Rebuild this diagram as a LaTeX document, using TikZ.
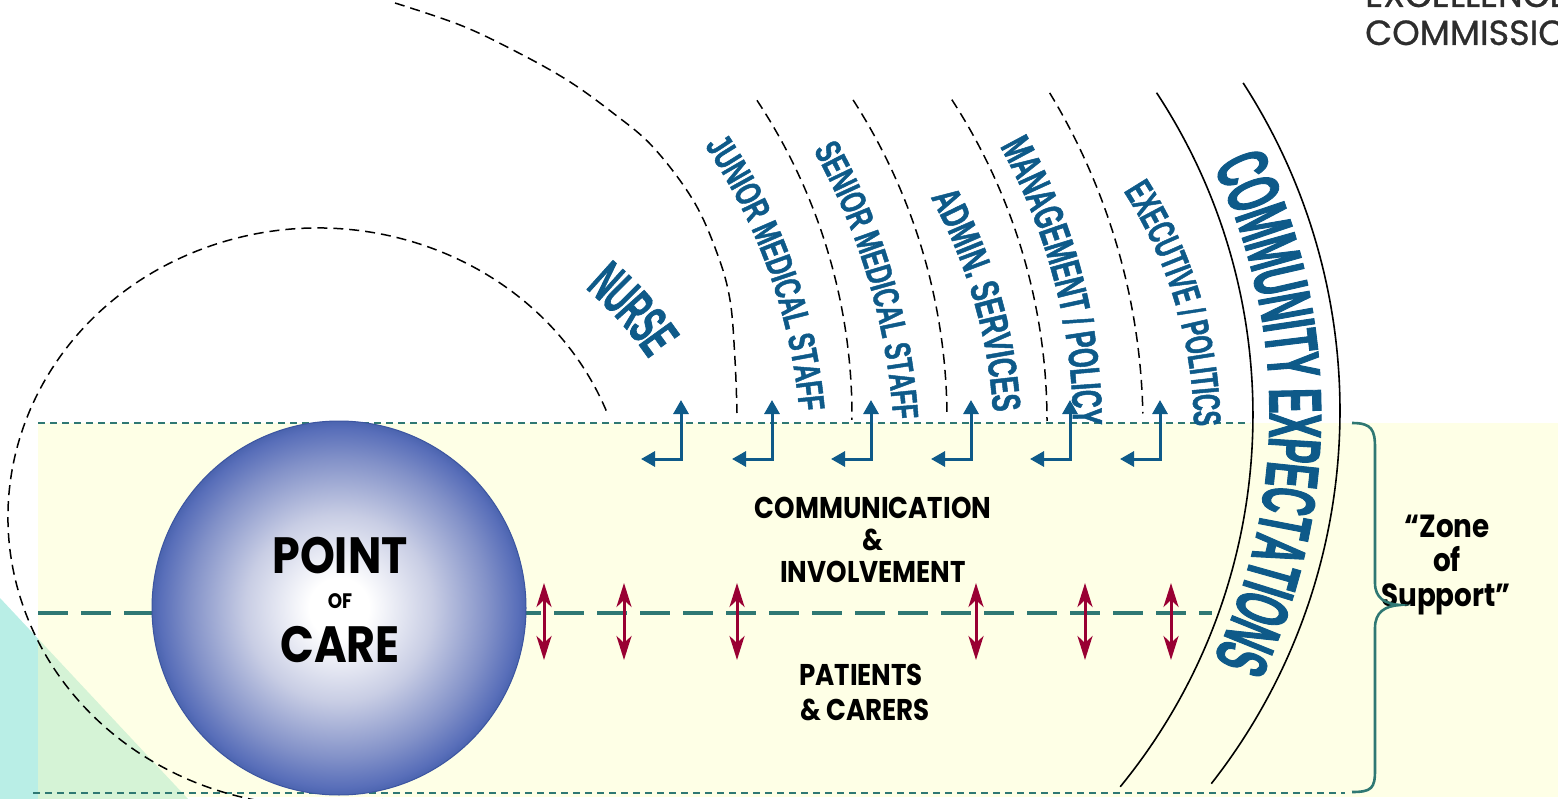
\documentclass[tikz,border=0pt]{standalone}
\usepackage{fontspec}
\usetikzlibrary{decorations.text,arrows.meta,calc}
\newfontfamily\gothic{Poppins}[FakeStretch=0.87]
\newfontfamily\logofont{Poppins}[FakeBold=0.8]
\newfontfamily\lblN{Liberation Sans}[FakeStretch=0.5,FakeBold=1.2]
\newfontfamily\lblM{Liberation Sans}[FakeStretch=0.6,FakeBold=1.2]
\newfontfamily\lblW{Liberation Sans}[FakeStretch=0.65,FakeBold=1.2]
\definecolor{lblblue}{RGB}{14,90,137}
\definecolor{tealc}{RGB}{47,120,115}
\definecolor{arrowred}{RGB}{153,0,51}
\definecolor{bandyellow}{RGB}{254,255,230}
\definecolor{cyanout}{RGB}{185,238,230}
\definecolor{cyanin}{RGB}{213,243,214}
\definecolor{logogray}{RGB}{45,45,45}
\definecolor{ballA}{RGB}{200,205,228}
\definecolor{ballB}{RGB}{130,145,200}
\definecolor{ballC}{RGB}{88,110,185}
\definecolor{ballD}{RGB}{75,100,175}
\definecolor{ballline}{RGB}{60,85,160}
\pgfdeclareradialshading{ballshade}{\pgfpoint{0bp}{0bp}}{%
  color(0bp)=(white); color(4bp)=(white); color(12.5bp)=(ballA);
  color(20bp)=(ballB); color(24bp)=(ballC); color(25bp)=(ballD); color(50bp)=(ballD)}
\newcommand\curvlab[8]{%
  \path[decorate, decoration={text along path, text align=center, raise=#7pt,
      text color=lblblue, text={|#6|#8}}]
    ($(#1,#2)+({#4-#5}:#3)$) arc[start angle={#4-#5}, end angle={#4+#5}, radius=#3];}
\begin{document}
\begin{tikzpicture}[x=1pt,y=-1pt,
  dasharc/.style={black, line width=1.5pt, dash pattern=on 10pt off 6pt},
  solidarc/.style={black, line width=1.6pt},
  bandline/.style={tealc, line width=1.6pt, dash pattern=on 7pt off 5pt},
  midline/.style={tealc, line width=4pt, dash pattern=on 30pt off 13pt},
  bluearrow/.style={lblblue, line width=3pt, arrows={Triangle[width=15pt,length=14pt]-Triangle[width=15pt,length=14pt]}},
  redarrow/.style={arrowred, line width=3pt, arrows={Stealth[width=15pt,length=24pt,inset=7pt]-Stealth[width=15pt,length=24pt,inset=7pt]}},
  bracestyle/.style={tealc, line width=2.6pt},
  gtext/.style={inner sep=0pt, anchor=base, text=black}]
\useasboundingbox (0,0) rectangle (1558,799);
\clip (0,0) rectangle (1558,799);
% band
\fill[bandyellow] (38,423) rectangle (1558,797);
\fill[cyanout] (0,598) -- (38,638.6) -- (38,799) -- (0,799) -- cycle;
\fill[cyanin] (38,638.6) -- (188,799) -- (38,799) -- cycle;
\coordinate (bandTL) at (38,423); \coordinate (bandTR) at (1250,423);
\coordinate (bandBL) at (33,793); \coordinate (bandBR) at (1345,793);
\draw[bandline] (bandTL) -- (bandTR);
\draw[bandline] (bandBL) -- (bandBR);
\coordinate (midL) at (38,613); \coordinate (midR) at (1212,613);
\draw[midline] (midL) -- (midR);
% left dashed oval
\coordinate (ovalS) at ($(318,517)+(-21.6:310 and 289)$);
\draw[dasharc] (ovalS) arc[start angle=-21.6, end angle=-282, x radius=310, y radius=289];
% arc A
\draw[dasharc] plot[smooth, tension=0.6] coordinates {(395,3) (460,25) (513,50) (567,80) (613,113) (653,147) (693,200) (717,253) (730,300) (735,360) (737,413)};
% arcs B-E
\coordinate (Bs) at ($(280,416)+(-33.5:572)$);
\draw[dasharc] (Bs) arc[start angle=-33.5, end angle=0.4, radius=572];
\coordinate (Cs) at ($(358,419)+(-32.8:589)$);
\draw[dasharc] (Cs) arc[start angle=-32.8, end angle=-0.2, radius=589];
\coordinate (Ds) at ($(457,421)+(-33:590)$);
\draw[dasharc] (Ds) arc[start angle=-33, end angle=0, radius=590];
\coordinate (Es) at ($(498,427)+(-31.2:645)$);
\draw[dasharc] (Es) arc[start angle=-31.2, end angle=-1.2, radius=645];
% solid arcs
\coordinate (Fs) at ($(666,415)+(-33.3:587)$);
\draw[solidarc] (Fs) arc[start angle=-33.3, end angle=39.3, radius=587];
\coordinate (Gs) at ($(736,411)+(-32.9:604)$);
\draw[solidarc] (Gs) arc[start angle=-32.9, end angle=38.1, radius=604];
% ball
\node[circle, minimum size=374pt, inner sep=0pt, shading=ballshade, draw=ballline, line width=1pt] (ball) at (339,608) {};
\node[gtext, font=\gothic\bfseries\fontsize{51}{51}\selectfont] (point) at (340,573) {POINT};
\node[gtext, font=\gothic\bfseries\fontsize{21}{21}\selectfont] (of) at (340,608) {OF};
\node[gtext, font=\gothic\bfseries\fontsize{51}{51}\selectfont] (care) at (340,662) {CARE};
% curved labels
\curvlab{359}{556}{371}{-42}{30}{\lblN\bfseries\fontsize{57}{57}\selectfont}{-20.5}{NURSE}
\curvlab{239.5}{461}{575}{-19.6}{35}{\lblW\bfseries\fontsize{37}{37}\selectfont}{-13}{JUNIOR MEDICAL STAFF}
\curvlab{256.6}{461.6}{651}{-16.5}{32}{\lblW\bfseries\fontsize{36.5}{36.5}\selectfont}{-13}{SENIOR MEDICAL STAFF}
\curvlab{486}{443}{522}{-16.2}{35}{\lblW\bfseries\fontsize{40}{40}\selectfont}{-14}{ADMIN. SERVICES}
\curvlab{498}{427}{590}{-14.7}{35}{\lblM\bfseries\fontsize{42}{42}\selectfont}{-15}{MANAGEMENT / POLICY}
\curvlab{751}{431}{457}{-16.7}{40}{\lblM\bfseries\fontsize{38.4}{38.4}\selectfont}{-14}{EXECUTIVE / POLITICS}
\curvlab{701}{413}{595.5}{0}{40}{\lblN\bfseries\fontsize{75}{75}\selectfont}{-27}{COMMUNITY EXPECTATIONS}
% band texts
\node[gtext, font=\gothic\bfseries\fontsize{30}{30}\selectfont] (comm) at (873,518) {COMMUNICATION};
\node[gtext, font=\gothic\bfseries\fontsize{30}{30}\selectfont] (amp1) at (873,550) {\&};
\node[gtext, font=\gothic\bfseries\fontsize{30}{30}\selectfont] (inv) at (873,582) {INVOLVEMENT};
\node[gtext, font=\gothic\bfseries\fontsize{30}{30}\selectfont] (pat) at (861,685) {PATIENTS};
\node[gtext, font=\gothic\bfseries\fontsize{30}{30}\selectfont] (car) at (865,720) {\& CARERS};
\node[gtext, font=\gothic\bfseries\fontsize{32}{32}\selectfont] (z1) at (1447,537) {“Zone};
\node[gtext, font=\gothic\bfseries\fontsize{32}{32}\selectfont] (z2) at (1447,571) {of};
\node[gtext, font=\gothic\bfseries\fontsize{32}{32}\selectfont] (z3) at (1446,606) {Support”};
% logo
\node[anchor=base west, inner sep=0pt, text=logogray, font=\logofont\fontsize{35}{35}\selectfont] (logo1) at (1365,7) {EXCELLENCE};
\node[anchor=base west, inner sep=0pt, text=logogray, font=\logofont\fontsize{35}{35}\selectfont] (logo2) at (1365,45) {COMMISSION};
% blue elbow arrows
\foreach \x [count=\i] in {681,772,871,971,1070,1160} {
  \coordinate (bt\i) at (\x,400);
  \coordinate (bc\i) at (\x,459);
  \coordinate (bl\i) at (\x-40,459);
  \draw[bluearrow] (bl\i) -- (bc\i) -- (bt\i);
}
% red double arrows
\foreach \x [count=\i] in {544,624,737,976,1085,1171} {
  \coordinate (ru\i) at (\x,583);
  \coordinate (rd\i) at (\x,660);
  \draw[redarrow] (ru\i) -- (rd\i);
}
% brace
\coordinate (brtop) at (1352,423);
\coordinate (brtip) at (1400,605);
\coordinate (brbot) at (1352,792);
\draw[bracestyle] (brtop) .. controls (1372,423) and (1375,430) .. (1375,448) -- (1375,583)
  .. controls (1375,598) and (1385,604) .. (brtip)
  .. controls (1385,606) and (1375,612) .. (1375,628) -- (1375,770)
  .. controls (1375,788) and (1372,792) .. (brbot);
\end{tikzpicture}
\end{document}
